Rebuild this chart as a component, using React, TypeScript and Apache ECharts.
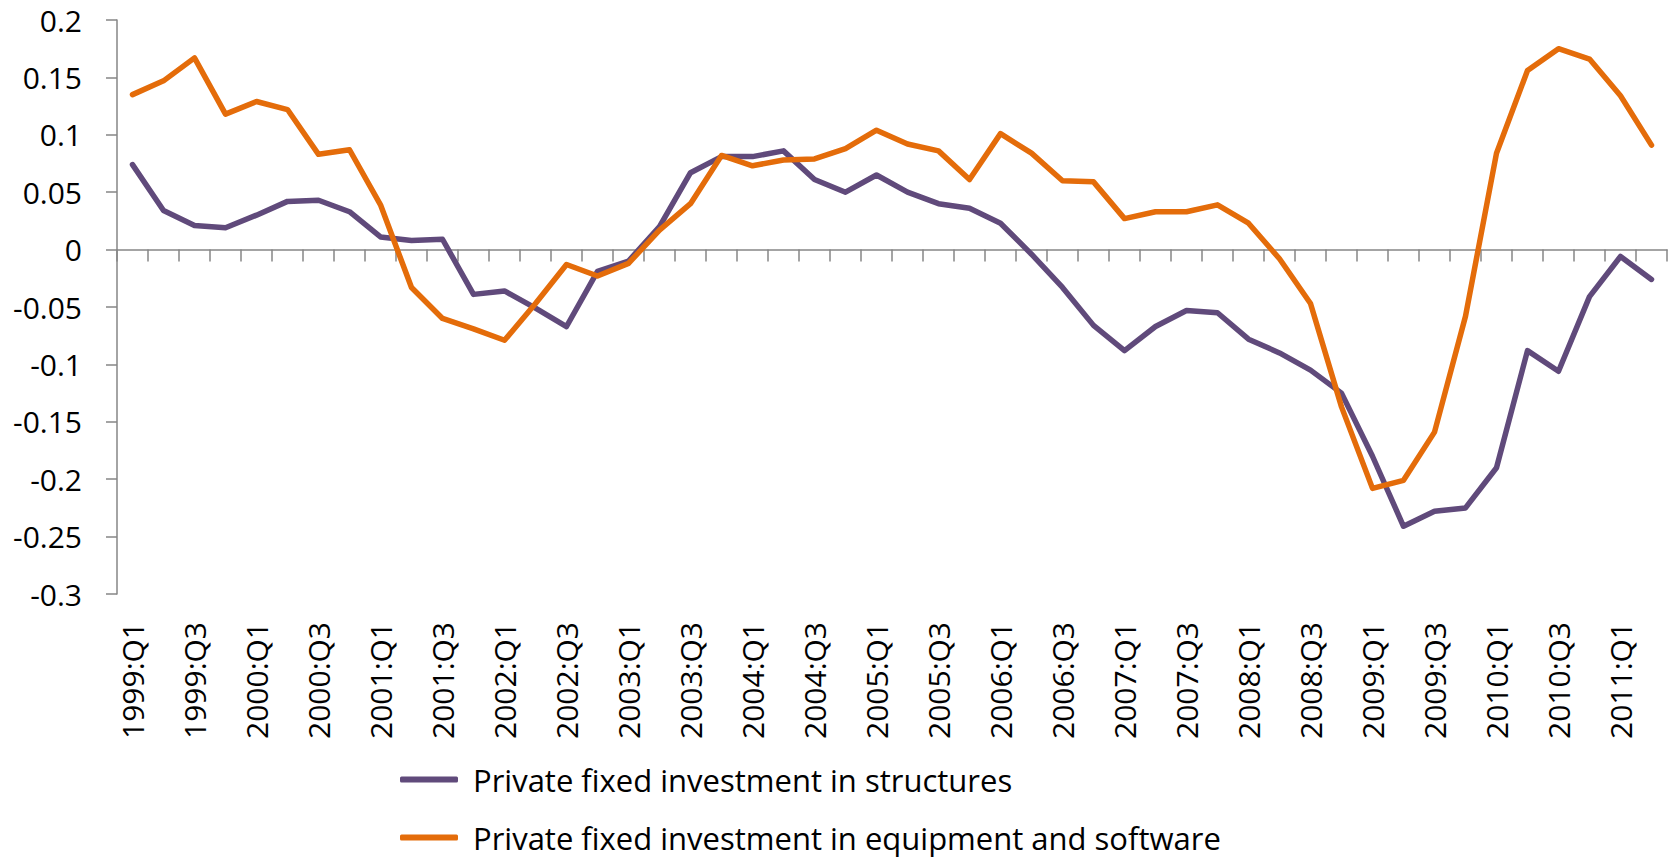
import React, { useEffect, useRef } from "react";
import * as echarts from "echarts";

const categories: string[] = [
  "1999:Q1", "1999:Q2", "1999:Q3", "1999:Q4",
  "2000:Q1", "2000:Q2", "2000:Q3", "2000:Q4",
  "2001:Q1", "2001:Q2", "2001:Q3", "2001:Q4",
  "2002:Q1", "2002:Q2", "2002:Q3", "2002:Q4",
  "2003:Q1", "2003:Q2", "2003:Q3", "2003:Q4",
  "2004:Q1", "2004:Q2", "2004:Q3", "2004:Q4",
  "2005:Q1", "2005:Q2", "2005:Q3", "2005:Q4",
  "2006:Q1", "2006:Q2", "2006:Q3", "2006:Q4",
  "2007:Q1", "2007:Q2", "2007:Q3", "2007:Q4",
  "2008:Q1", "2008:Q2", "2008:Q3", "2008:Q4",
  "2009:Q1", "2009:Q2", "2009:Q3", "2009:Q4",
  "2010:Q1", "2010:Q2", "2010:Q3", "2010:Q4",
  "2011:Q1", "2011:Q2",
];

const structures: number[] = [
  0.074, 0.034, 0.021, 0.019, 0.030, 0.042, 0.043, 0.033,
  0.011, 0.008, 0.009, -0.039, -0.036, -0.051, -0.067, -0.019,
  -0.010, 0.020, 0.067, 0.081, 0.081, 0.086, 0.061, 0.050,
  0.065, 0.050, 0.040, 0.036, 0.023, -0.004, -0.033, -0.066,
  -0.088, -0.067, -0.053, -0.055, -0.078, -0.090, -0.105, -0.125,
  -0.180, -0.241, -0.228, -0.225, -0.190, -0.088, -0.106, -0.041,
  -0.006, -0.026,
];

const equipment: number[] = [
  0.135, 0.147, 0.167, 0.118, 0.129, 0.122, 0.083, 0.087,
  0.039, -0.033, -0.060, -0.069, -0.079, -0.047, -0.013, -0.023,
  -0.012, 0.017, 0.040, 0.082, 0.073, 0.078, 0.079, 0.088,
  0.104, 0.092, 0.086, 0.061, 0.101, 0.084, 0.060, 0.059,
  0.027, 0.033, 0.033, 0.039, 0.023, -0.008, -0.047, -0.137,
  -0.208, -0.201, -0.159, -0.058, 0.084, 0.156, 0.175, 0.166,
  0.134, 0.091,
];

const seriesNames: string[] = [
  "Private fixed investment in structures",
  "Private fixed investment in equipment and software",
];

const FONT = "'Open Sans', 'Noto Sans', sans-serif";
const AXIS_GREY = "#868686";
const PURPLE = "#604A7B";
const ORANGE = "#E46C0A";

export default function App() {
  const ref = useRef<HTMLDivElement>(null);

  useEffect(() => {
    document.body.style.margin = "0";
    if (!ref.current) return;
    const chart = echarts.init(ref.current, null, { renderer: "svg" });
    chart.setOption({
      animation: false,
      backgroundColor: "#ffffff",
      textStyle: { fontFamily: FONT },
      grid: { left: 117, right: 4, top: 20, bottom: 266, containLabel: false },
      legend: {
        orient: "vertical",
        left: 395,
        top: 759,
        height: 200,
        itemWidth: 58,
        itemHeight: 6,
        itemGap: 27,
        icon: "roundRect",
        data: seriesNames,
        textStyle: {
          fontFamily: FONT,
          fontSize: 31,
          color: "#000000",
          lineHeight: 30,
          padding: [0, 0, 0, 10],
        },
      },
      xAxis: [
        {
          type: "category",
          data: categories,
          boundaryGap: true,
          position: "bottom",
          axisLine: { show: true, onZero: true, lineStyle: { color: AXIS_GREY, width: 1.5 } },
          axisTick: { show: true, interval: 0, length: 12, lineStyle: { color: AXIS_GREY, width: 1.5 } },
          axisLabel: { show: false },
          splitLine: { show: false },
        },
        {
          type: "category",
          data: categories,
          boundaryGap: true,
          position: "bottom",
          axisLine: { show: false, onZero: false },
          axisTick: { show: false },
          axisLabel: {
            show: true,
            interval: 1,
            rotate: 90,
            margin: 28,
            fontFamily: FONT,
            fontSize: 30,
            color: "#000000",
          },
          splitLine: { show: false },
        },
      ],
      yAxis: {
        type: "value",
        min: -0.3,
        max: 0.2,
        interval: 0.05,
        axisLine: { show: true, lineStyle: { color: AXIS_GREY, width: 1.5 } },
        axisTick: { show: true, length: 11, lineStyle: { color: AXIS_GREY, width: 1.5 } },
        axisLabel: {
          margin: 35,
          fontFamily: FONT,
          fontSize: 30,
          color: "#000000",
          formatter: (v: number) => String(parseFloat(v.toFixed(2))),
        },
        splitLine: { show: false },
      },
      series: [
        {
          name: seriesNames[0],
          type: "line",
          data: structures,
          xAxisIndex: 0,
          symbol: "none",
          color: PURPLE,
          lineStyle: { color: PURPLE, width: 5.5, cap: "round", join: "round" },
          z: 3,
        },
        {
          name: seriesNames[1],
          type: "line",
          data: equipment,
          xAxisIndex: 0,
          symbol: "none",
          color: ORANGE,
          lineStyle: { color: ORANGE, width: 5.5, cap: "round", join: "round" },
          z: 4,
        },
      ],
    });
    return () => chart.dispose();
  }, []);

  return <div ref={ref} style={{ width: 1671, height: 860 }} />;
}
